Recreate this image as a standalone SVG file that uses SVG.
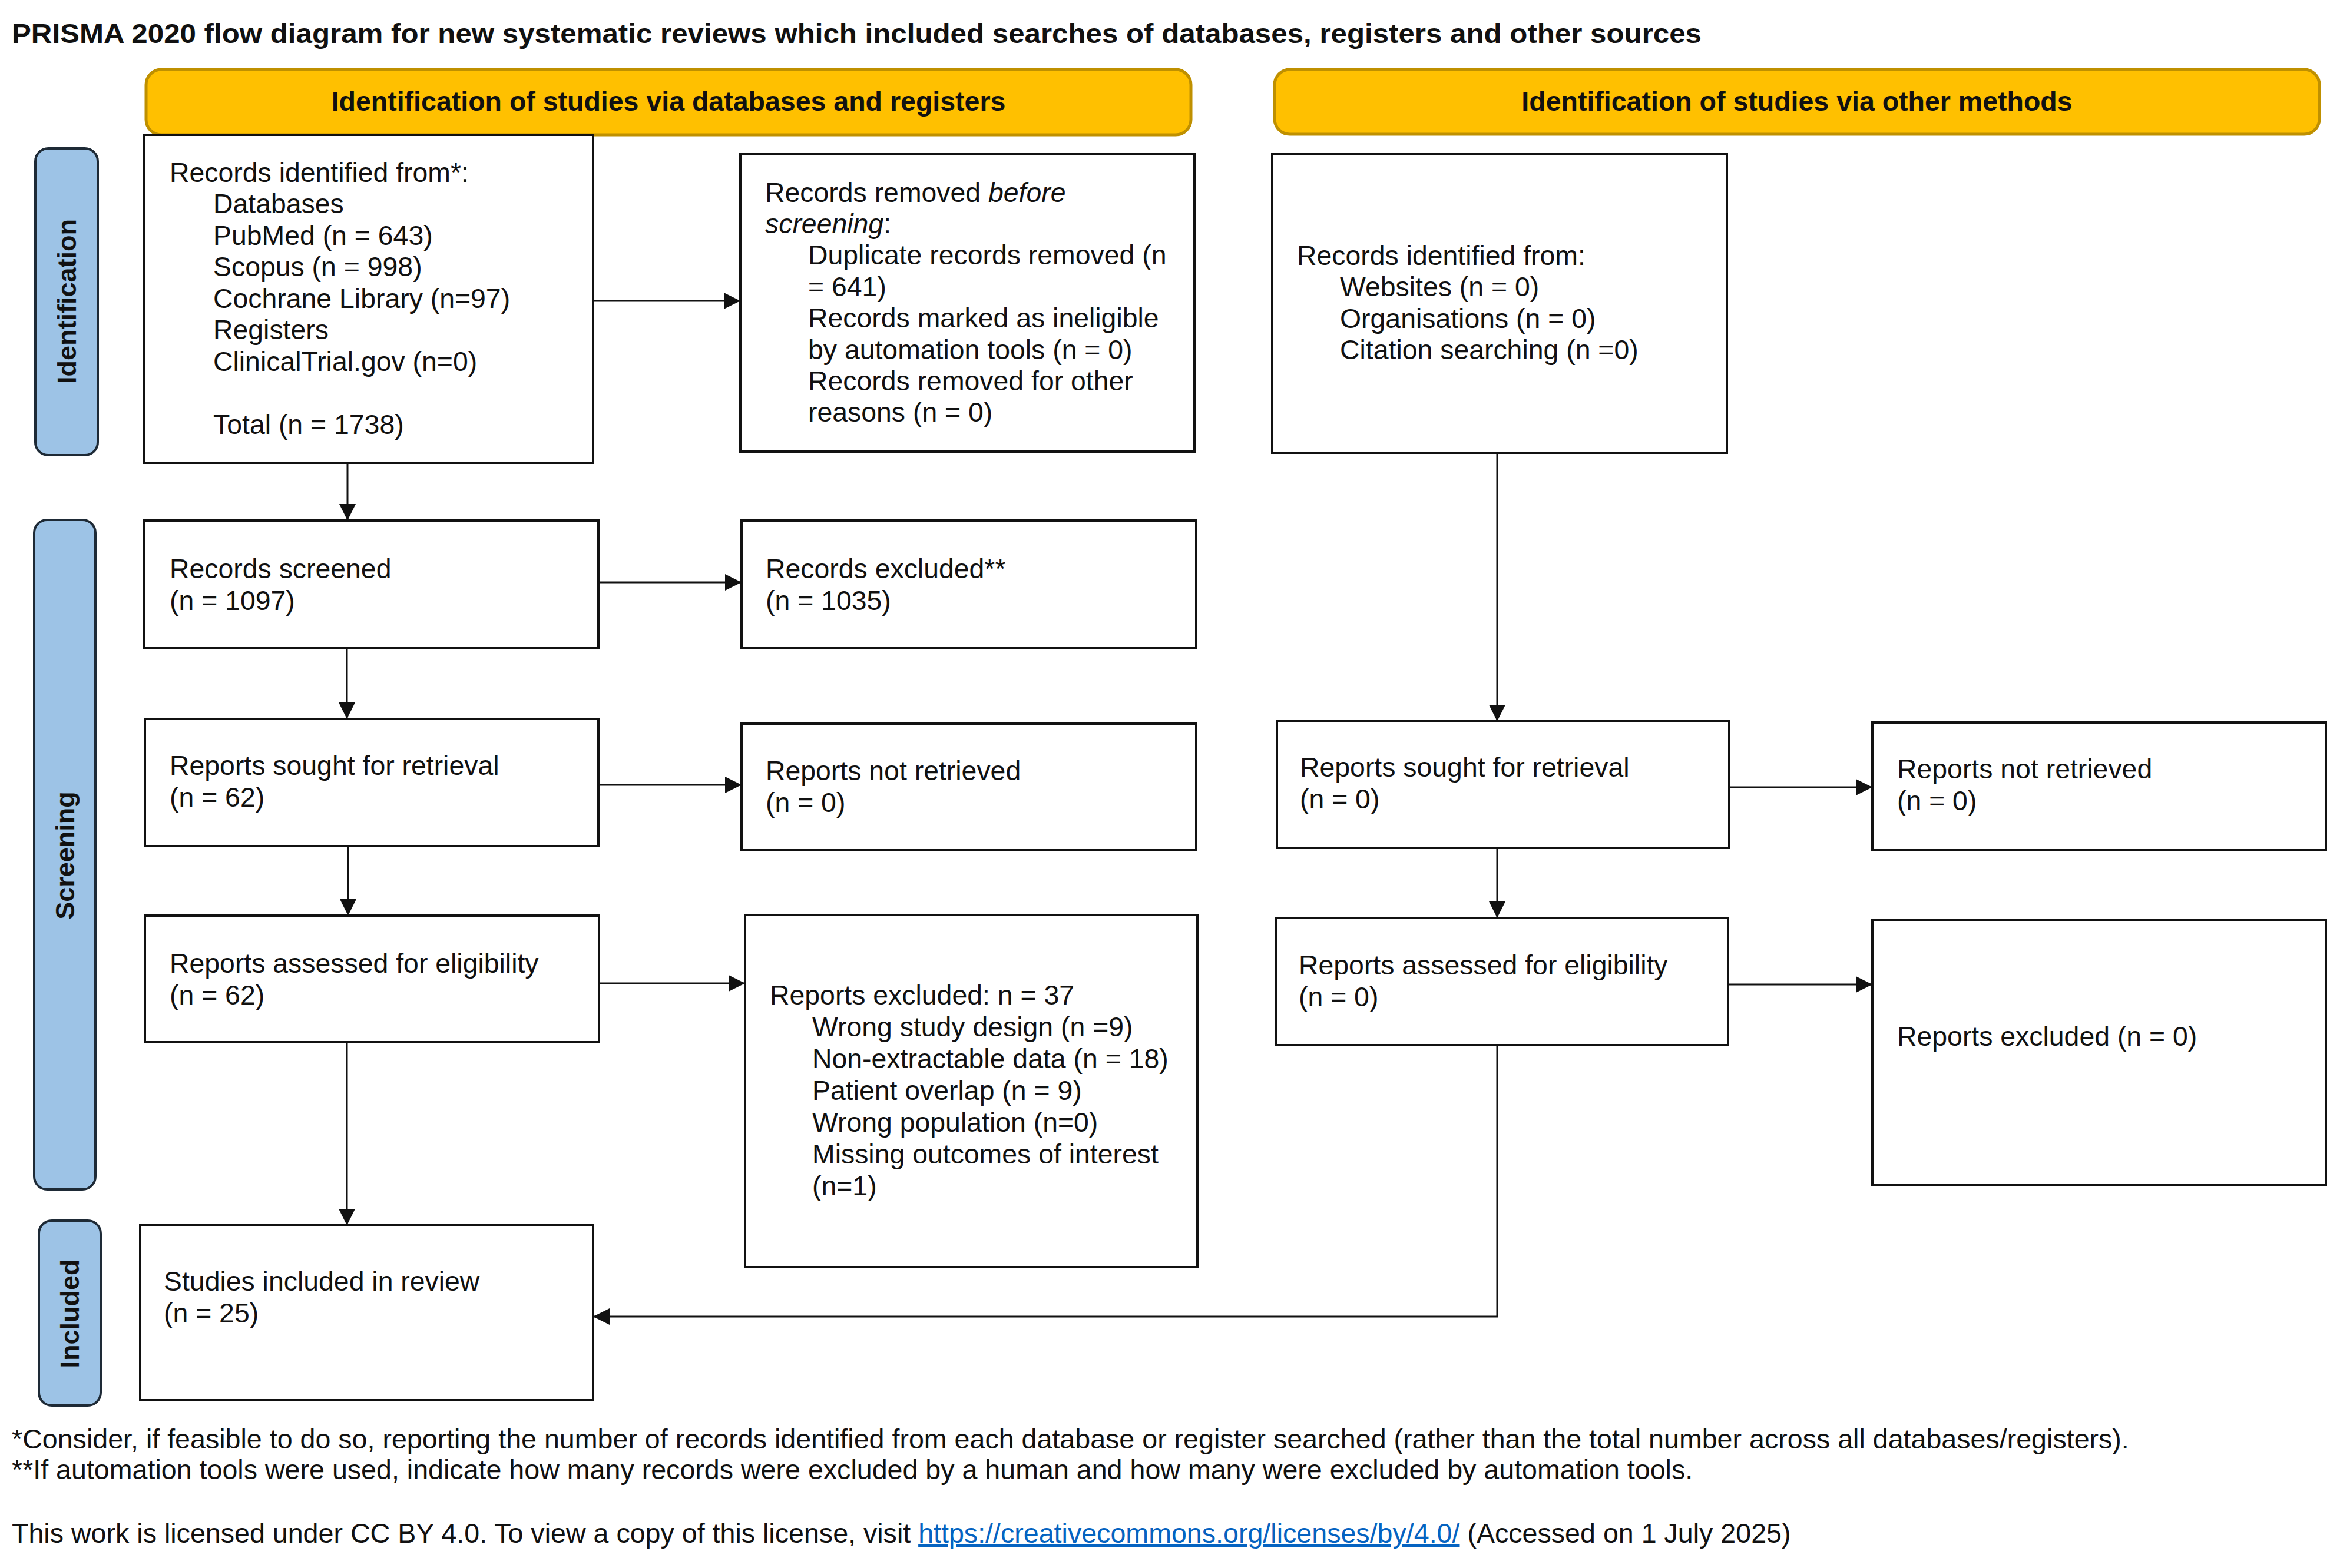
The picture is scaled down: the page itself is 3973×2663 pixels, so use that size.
<svg xmlns="http://www.w3.org/2000/svg" width="3973" height="2663" viewBox="0 0 3973 2663">
<style>
text{font-family:"Liberation Sans",Arial,sans-serif;fill:#111;font-size:46.4px}
.title{font-weight:bold;font-size:46px}
.hdr{font-weight:bold;font-size:46.5px;text-anchor:middle}
.side{font-weight:bold;font-size:45px;text-anchor:middle}
.foot{font-size:46.6px}
.box{fill:#fff;stroke:#111;stroke-width:4}
.hbox{fill:#FFC000;stroke:#BF9000;stroke-width:5}
.sbox{fill:#9DC3E6;stroke:#1e2a36;stroke-width:4}
.conn{fill:none;stroke:#111;stroke-width:3}
.link{fill:#0563C1;text-decoration:underline}
</style>
<defs>
<marker id="arr" markerUnits="userSpaceOnUse" markerWidth="28" markerHeight="28" refX="28" refY="14" orient="auto">
<path d="M0,0 L28,14 L0,28 z" fill="#111"/>
</marker>
</defs>
<rect width="3973" height="2663" fill="#fff"/>
<text class="title" x="20" y="73" textLength="2869" lengthAdjust="spacingAndGlyphs">PRISMA 2020 flow diagram for new systematic reviews which included searches of databases, registers and other sources</text>

<g id="header-db">
<rect class="hbox" x="248" y="118" width="1774" height="111" rx="26"/>
<text class="hdr" x="1135" y="188">Identification of studies via databases and registers</text>
</g>
<g id="header-other">
<rect class="hbox" x="2164" y="118" width="1774" height="110" rx="26"/>
<text class="hdr" x="3051" y="188">Identification of studies via other methods</text>
</g>

<g id="side-identification">
<rect class="sbox" x="60" y="252" width="106" height="521" rx="22"/>
<text class="side" transform="translate(129,512) rotate(-90)">Identification</text>
</g>
<g id="side-screening">
<rect class="sbox" x="58" y="883" width="104" height="1137" rx="22"/>
<text class="side" transform="translate(126,1453) rotate(-90)">Screening</text>
</g>
<g id="side-included">
<rect class="sbox" x="66" y="2073" width="105" height="314" rx="22"/>
<text class="side" transform="translate(134,2231) rotate(-90)">Included</text>
</g>

<g id="records-identified-db">
<rect class="box" x="244" y="229" width="763" height="557"/>
<text x="288" y="309">Records identified from*:</text>
<text x="362" y="362">Databases</text>
<text x="362" y="416">PubMed (n = 643)</text>
<text x="362" y="469">Scopus (n = 998)</text>
<text x="362" y="523">Cochrane Library (n=97)</text>
<text x="362" y="576">Registers</text>
<text x="362" y="630">ClinicalTrial.gov (n=0)</text>
<text x="362" y="737">Total (n = 1738)</text>
</g>

<g id="records-removed">
<rect class="box" x="1257" y="261" width="771" height="506"/>
<text x="1299" y="343">Records removed <tspan font-style="italic">before</tspan></text>
<text x="1299" y="396"><tspan font-style="italic">screening</tspan>:</text>
<text x="1372" y="449">Duplicate records removed (n</text>
<text x="1372" y="503">= 641)</text>
<text x="1372" y="556">Records marked as ineligible</text>
<text x="1372" y="610">by automation tools (n = 0)</text>
<text x="1372" y="663">Records removed for other</text>
<text x="1372" y="716">reasons (n = 0)</text>
</g>

<g id="records-identified-other">
<rect class="box" x="2160" y="261" width="772" height="508"/>
<text x="2202" y="450">Records identified from:</text>
<text x="2275" y="503">Websites (n = 0)</text>
<text x="2275" y="557">Organisations (n = 0)</text>
<text x="2275" y="610">Citation searching (n =0)</text>
</g>

<g id="records-screened">
<rect class="box" x="245" y="884" width="771" height="216"/>
<text x="288" y="982">Records screened</text>
<text x="288" y="1036">(n = 1097)</text>
</g>

<g id="records-excluded">
<rect class="box" x="1259" y="884" width="772" height="216"/>
<text x="1300" y="982">Records excluded**</text>
<text x="1300" y="1036">(n = 1035)</text>
</g>

<g id="reports-sought-db">
<rect class="box" x="246" y="1221" width="770" height="216"/>
<text x="288" y="1316">Reports sought for retrieval</text>
<text x="288" y="1370">(n = 62)</text>
</g>

<g id="reports-not-retrieved-db">
<rect class="box" x="1259" y="1229" width="772" height="215"/>
<text x="1300" y="1325">Reports not retrieved</text>
<text x="1300" y="1379">(n = 0)</text>
</g>

<g id="reports-assessed-db">
<rect class="box" x="246" y="1555" width="771" height="215"/>
<text x="288" y="1652">Reports assessed for eligibility</text>
<text x="288" y="1706">(n = 62)</text>
</g>

<g id="reports-excluded-db">
<rect class="box" x="1265" y="1554" width="768" height="598"/>
<text x="1307" y="1706">Reports excluded: n = 37</text>
<text x="1379" y="1760">Wrong study design (n =9)</text>
<text x="1379" y="1814">Non-extractable data (n = 18)</text>
<text x="1379" y="1868">Patient overlap (n = 9)</text>
<text x="1379" y="1922">Wrong population (n=0)</text>
<text x="1379" y="1976">Missing outcomes of interest</text>
<text x="1379" y="2030">(n=1)</text>
</g>

<g id="reports-sought-other">
<rect class="box" x="2168" y="1225" width="768" height="215"/>
<text x="2207" y="1319">Reports sought for retrieval</text>
<text x="2207" y="1373">(n = 0)</text>
</g>

<g id="reports-not-retrieved-other">
<rect class="box" x="3179" y="1227" width="770" height="217"/>
<text x="3221" y="1322">Reports not retrieved</text>
<text x="3221" y="1376">(n = 0)</text>
</g>

<g id="reports-assessed-other">
<rect class="box" x="2166" y="1559" width="768" height="216"/>
<text x="2205" y="1655">Reports assessed for eligibility</text>
<text x="2205" y="1709">(n = 0)</text>
</g>

<g id="reports-excluded-other">
<rect class="box" x="3179" y="1562" width="770" height="450"/>
<text x="3221" y="1776">Reports excluded (n = 0)</text>
</g>

<g id="studies-included">
<rect class="box" x="238" y="2081" width="769" height="297"/>
<text x="278" y="2192">Studies included in review</text>
<text x="278" y="2246">(n = 25)</text>
</g>

<g id="connectors">
<path class="conn" d="M590,786 V884" marker-end="url(#arr)"/>
<path class="conn" d="M1009,511 H1257" marker-end="url(#arr)"/>
<path class="conn" d="M1016,989 H1259" marker-end="url(#arr)"/>
<path class="conn" d="M589,1100 V1221" marker-end="url(#arr)"/>
<path class="conn" d="M1016,1333 H1259" marker-end="url(#arr)"/>
<path class="conn" d="M591,1437 V1555" marker-end="url(#arr)"/>
<path class="conn" d="M1017,1670 H1265" marker-end="url(#arr)"/>
<path class="conn" d="M589,1770 V2081" marker-end="url(#arr)"/>
<path class="conn" d="M2542,769 V1225" marker-end="url(#arr)"/>
<path class="conn" d="M2936,1337 H3179" marker-end="url(#arr)"/>
<path class="conn" d="M2542,1440 V1559" marker-end="url(#arr)"/>
<path class="conn" d="M2934,1672 H3179" marker-end="url(#arr)"/>
<path class="conn" d="M2542,1775 V2236 H1007" marker-end="url(#arr)"/>
</g>

<g id="footnotes">
<text class="foot" x="20" y="2460">*Consider, if feasible to do so, reporting the number of records identified from each database or register searched (rather than the total number across all databases/registers).</text>
<text class="foot" x="20" y="2512">**If automation tools were used, indicate how many records were excluded by a human and how many were excluded by automation tools.</text>
<text class="foot" x="20" y="2620">This work is licensed under CC BY 4.0. To view a copy of this license, visit <tspan class="link">https://creativecommons.org/licenses/by/4.0/</tspan> (Accessed on 1 July 2025)</text>
</g>
</svg>
